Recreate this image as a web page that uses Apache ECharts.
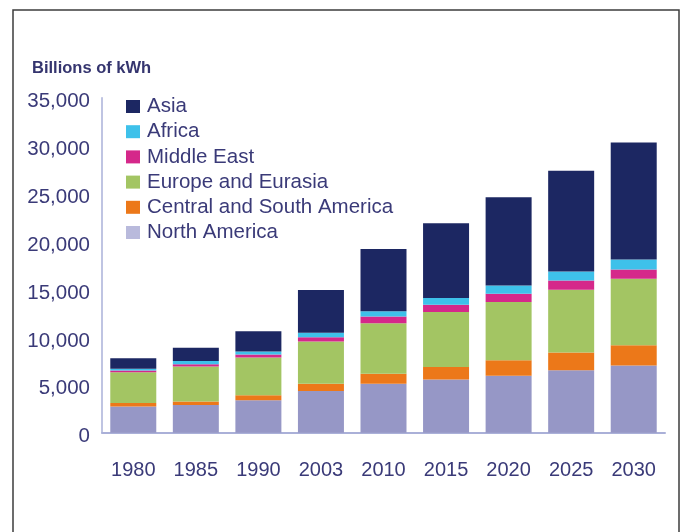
<!DOCTYPE html>
<html>
<head>
<meta charset="utf-8">
<script src="https://cdn.jsdelivr.net/npm/echarts@6/dist/echarts.min.js"></script>
<style>
  html, body { margin: 0; padding: 0; background: #ffffff; }
  #chart { width: 682px; height: 532px; }
</style>
</head>
<body>
<div id="chart"></div>
<script>
// World net electricity generation by region, billions of kWh
const years = ['1980', '1985', '1990', '2003', '2010', '2015', '2020', '2025', '2030'];
const northAmerica        = [2740, 2885, 3385, 4355, 5125, 5560, 5940, 6530, 7020];
const centralSouthAmerica = [350, 375, 520, 770, 1040, 1315, 1635, 1845, 2115];
const europeEurasia       = [3230, 3646, 3960, 4405, 5270, 5730, 6075, 6565, 6945];
const middleEast          = [170, 250, 310, 450, 695, 770, 875, 970, 970];
const africa              = [180, 345, 310, 455, 555, 690, 865, 940, 1040];
const asia                = [1110, 1385, 2115, 4480, 6500, 7810, 9200, 10520, 12220];

const unitLabel = 'Billions of kWh';

const FONT = "'Liberation Sans', Arial, sans-serif";
const TEXT = '#3a3a78';
const AXIS = '#aab0d8';

// bottom-to-top stacking order
const regions = [
  { name: 'North America',              data: northAmerica,        color: '#9697c6', legendColor: '#b9badc' },
  { name: 'Central and South America',  data: centralSouthAmerica, color: '#ec7819' },
  { name: 'Europe and Eurasia',         data: europeEurasia,       color: '#a3c563' },
  { name: 'Middle East',                data: middleEast,          color: '#d5288a' },
  { name: 'Africa',                     data: africa,              color: '#3ec1ea' },
  { name: 'Asia',                       data: asia,                color: '#1c2762' }
];

const chart = echarts.init(document.getElementById('chart'), null, { renderer: 'canvas' });

chart.setOption({
  backgroundColor: '#ffffff',
  animation: false,
  graphic: [
    {
      type: 'rect',
      shape: { x: 13, y: 10, width: 666, height: 540 },
      style: { fill: 'none', stroke: '#3c3c3c', lineWidth: 1.5 },
      silent: true
    },
    {
      type: 'text',
      left: 32,
      top: 59.5,
      style: {
        text: unitLabel,
        font: "bold 16.5px " + FONT,
        fill: '#35356f'
      },
      silent: true
    }
  ],
  legend: {
    orient: 'vertical',
    left: 126,
    top: 96,
    padding: 0,
    itemWidth: 14,
    itemHeight: 13,
    itemGap: 4.2,
    icon: 'rect',
    selectedMode: false,
    textStyle: { fontFamily: FONT, fontSize: 20.5, color: TEXT, lineHeight: 20.5, padding: [0, 0, 0, 2] },
    data: regions.slice().reverse().map(r => ({
      name: r.name,
      itemStyle: { color: r.legendColor || r.color }
    }))
  },
  grid: {
    left: 102,
    right: 17,
    top: 97.7,
    bottom: 99.3,
    containLabel: false
  },
  xAxis: {
    type: 'category',
    data: years,
    axisLine: { show: true, lineStyle: { color: AXIS, width: 2 } },
    axisTick: { show: false },
    axisLabel: { fontFamily: FONT, fontSize: 20, color: TEXT, margin: 28 },
    splitLine: { show: false }
  },
  yAxis: {
    type: 'value',
    min: 0,
    max: 35000,
    interval: 5000,
    axisLine: { show: true, lineStyle: { color: AXIS, width: 1.5 } },
    axisTick: { show: false },
    splitLine: { show: false },
    axisLabel: {
      margin: 12,
      formatter: v => '{v|' + v.toLocaleString('en-US') + '}',
      rich: {
        v: { fontFamily: FONT, fontSize: 20.5, color: TEXT, padding: [8, 0, 0, 0] }
      }
    }
  },
  series: regions.map(r => ({
    name: r.name,
    type: 'bar',
    stack: 'total',
    barWidth: 46,
    data: r.data,
    itemStyle: { color: r.color },
    emphasis: { disabled: true }
  }))
});
</script>
</body>
</html>
